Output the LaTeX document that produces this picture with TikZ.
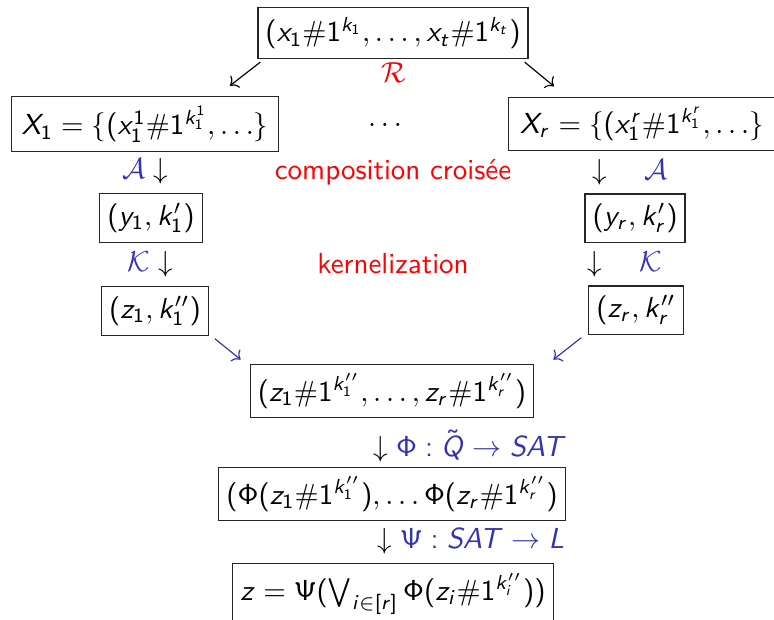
\documentclass[tikz,border=0pt]{standalone}
\usepackage{xcolor}
\usepackage{amsmath}
\usepackage{tikz}
\usetikzlibrary{positioning, arrows.meta}

% sans serif math, beamer like
\DeclareSymbolFont{sfletters}{OT1}{cmss}{m}{sl}
\SetSymbolFont{operators}{normal}{OT1}{cmss}{m}{n}
\newcommand\sfletter[1]{\DeclareMathSymbol{#1}{\mathalpha}{sfletters}{`#1}}
\sfletter{x}\sfletter{t}\sfletter{k}\sfletter{X}\sfletter{r}\sfletter{y}
\sfletter{z}\sfletter{i}\sfletter{Q}\sfletter{S}\sfletter{A}\sfletter{T}\sfletter{L}

\definecolor{bblue}{rgb}{0.2,0.2,0.7}

\begin{document}
\begin{tikzpicture}[
    x=0.345pt, y=-0.345pt,
    box/.style={rectangle, draw=black!85, line width=0.4pt, inner xsep=2.6pt, inner ysep=3.3pt, font=\fontsize{10}{12}\selectfont},
    wide/.style={box, minimum width=92pt},
    lbl/.style={inner sep=0pt, font=\fontsize{10}{12}\selectfont},
    note/.style={inner sep=0pt, text=red, font=\fontsize{10}{12}\selectfont\sffamily},
    arr/.style={->, line width=0.4pt},
    barr/.style={arr, bblue}
]
\useasboundingbox (0,0) rectangle (774,619);

\node[box] (top) at (393,33) {$(x_1\#1^{k_1},\ldots,x_t\#1^{k_t})$};
\node[lbl, text=red] (R) at (394,73) {$\mathcal{R}$};

\node[wide] (X1) at (145,124) {$X_1=\{(x_1^1\#1^{k_1^1},\ldots\}$};
\node[lbl] (dots) at (385,125) {$\ldots$};
\node[wide, anchor=west] (Xr) at (508,124) {$X_r=\{(x_1^r\#1^{k_1^r},\ldots\}$};

\node[lbl] (A1) at (145,171) {$\textcolor{bblue}{\mathcal{A}}\downarrow$};
\node[note] (comp) at (393,172) {composition croisée};
\node[lbl] (Ar) at (630,172) {$\downarrow\quad\textcolor{bblue}{\mathcal{A}}$};

\node[box] (y1) at (151,218) {$(y_1,k_1')$};
\node[box] (yr) at (635,218) {$(y_r,k_r')$};

\node[lbl] (K1) at (150,264) {$\textcolor{bblue}{\mathcal{K}}\downarrow$};
\node[note] (kern) at (393,264) {kernelization};
\node[lbl] (Kr) at (625,264) {$\downarrow\quad\textcolor{bblue}{\mathcal{K}}$};

\node[box] (z1) at (155,311) {$(z_1,k_1'')$};
\node[box] (zr) at (636,310) {$(z_r,k_r''$};

\node[box] (mid) at (392,391) {$(z_1\#1^{k_1''},\ldots,z_r\#1^{k_r''})$};
\node[lbl, anchor=west] (phi) at (373,446) {$\downarrow\textcolor{bblue}{\Phi:\tilde{Q}\to SAT}$};
\node[box] (phibox) at (392,494) {$(\Phi(z_1\#1^{k_1''}),\ldots\Phi(z_r\#1^{k_r''})$};
\node[lbl, anchor=west] (psi) at (377,541) {$\downarrow\textcolor{bblue}{\Psi:SAT\to L}$};
\node[box, anchor=north] (res) at (393,563) {$z=\Psi(\bigvee_{i\in[r]}\Phi(z_i\#1^{k_i''}))$};

\draw[arr] ([shift={(3,3)}]top.south west) -- ([shift={(-49,-10)}]X1.north east);
\draw[arr] ([shift={(-4,3)}]top.south east) -- ([shift={(46,-11)}]Xr.north west);
\draw[barr] ([shift={(6,3)}]z1.south east) -- ([shift={(-9,-4)}]mid.north west);
\draw[barr] ([shift={(-7,3)}]zr.south west) -- ([shift={(19,-4)}]mid.north east);
\end{tikzpicture}
\end{document}
